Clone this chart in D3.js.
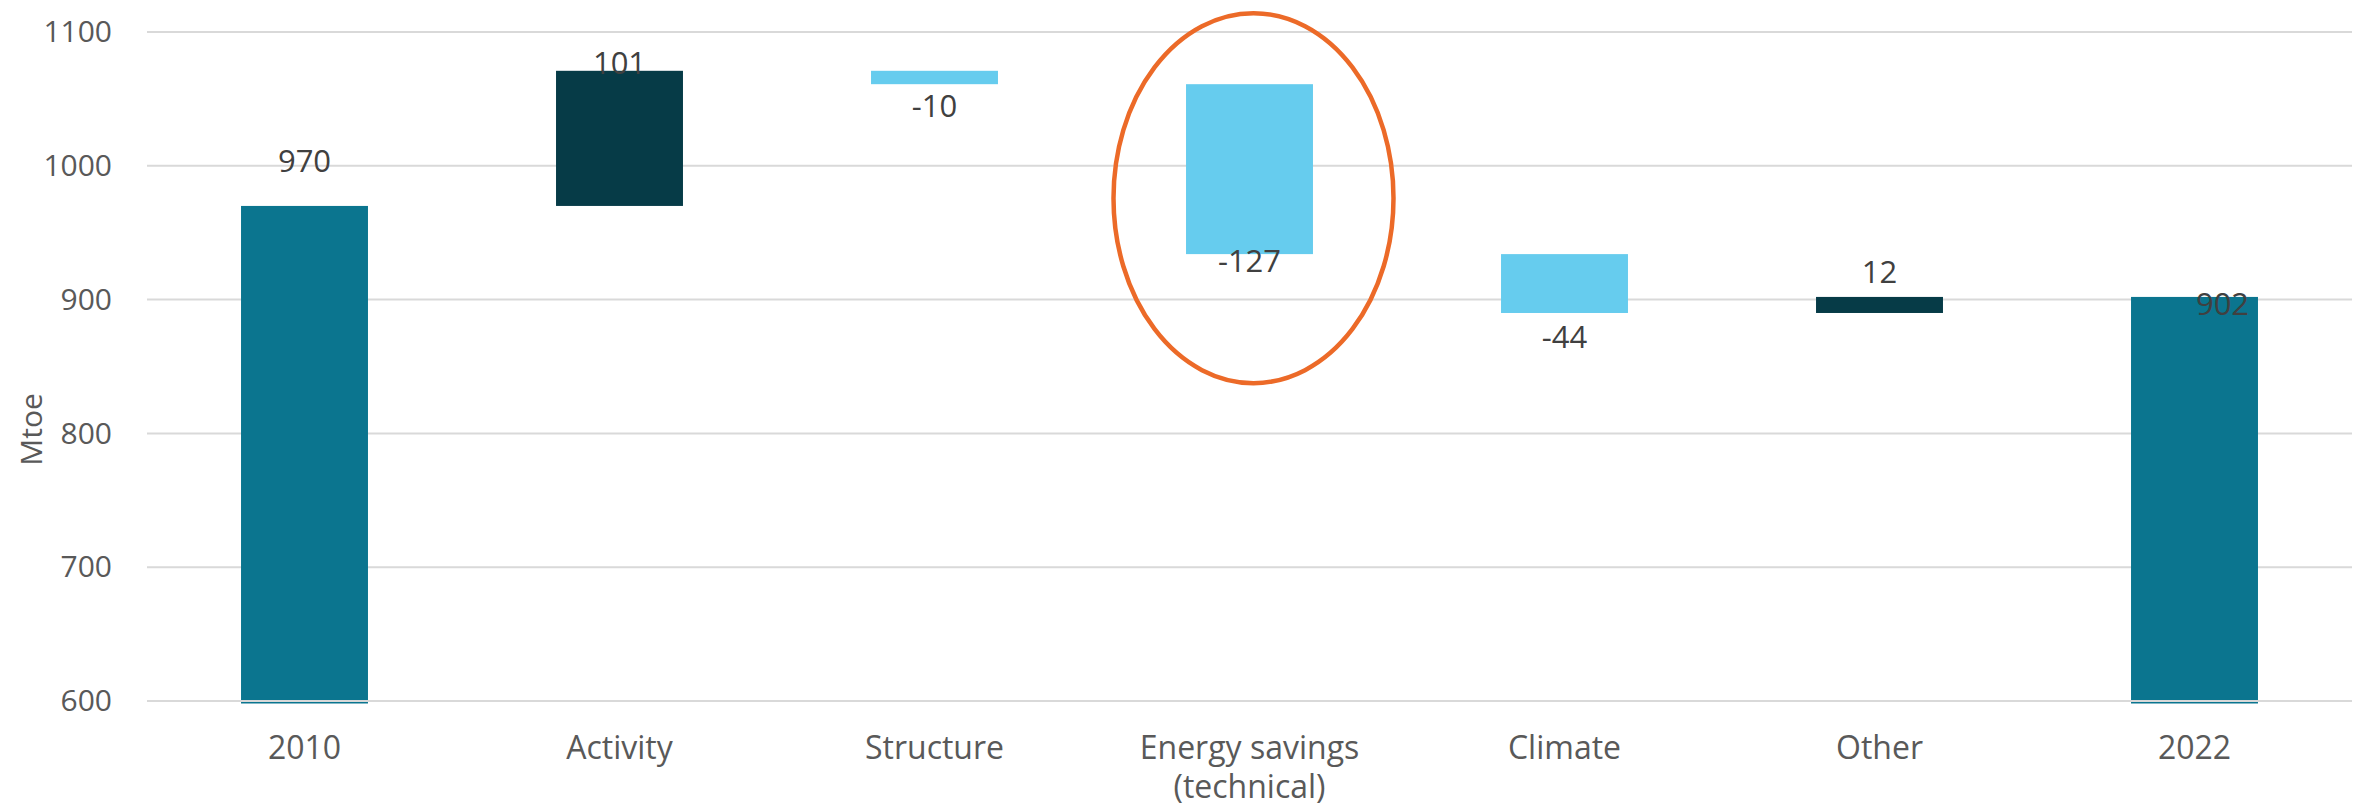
<!DOCTYPE html>
<html>
<head>
<meta charset="utf-8">
<script src="https://cdn.jsdelivr.net/npm/d3@7/dist/d3.min.js"></script>
<style>
  html, body { margin: 0; padding: 0; background: #fff; }
  svg { display: block; font-family: "Open Sans", "Noto Sans", sans-serif; }
</style>
</head>
<body>
<svg id="chart" width="2362" height="806"></svg>
<script>
// ---- data ----
const categories = ["2010", "Activity", "Structure", "Energy savings\n(technical)", "Climate", "Other", "2022"];
const values = [970, 101, -10, -127, -44, 12, 902];
const kinds = ["total", "delta", "delta", "delta", "delta", "delta", "total"];
const yTicks = [600, 700, 800, 900, 1000, 1100];
const yDomain = [600, 1100];
const yTitle = "Mtoe";
const highlighted = "Energy savings\n(technical)";

// ---- build waterfall rows ----
let running = 0;
const rows = categories.map((c, i) => {
  let start, end;
  if (kinds[i] === "total") { start = yDomain[0]; end = values[i]; running = values[i]; }
  else { start = running; end = running + values[i]; running = end; }
  return { cat: c, value: values[i], kind: kinds[i], start, end };
});

// ---- layout ----
const W = 2362, H = 806;
const margin = { left: 147, right: 10, top: 32, bottom: 105 };
const svg = d3.select("#chart");

const x = d3.scaleBand()
  .domain(categories)
  .range([margin.left, W - margin.right])
  .paddingInner(0.597)
  .paddingOuter(0.2985);

const y = d3.scaleLinear().domain(yDomain).range([H - margin.bottom, margin.top]);

const colors = { total: "#0b758f", up: "#063b47", down: "#66ccee" };

// gridlines
svg.append("g")
  .selectAll("line")
  .data(yTicks.filter(t => t !== yDomain[0]))
  .join("line")
  .attr("x1", margin.left).attr("x2", W - margin.right)
  .attr("y1", d => y(d)).attr("y2", d => y(d))
  .attr("stroke", "#d9d9d9").attr("stroke-width", 2);

// y axis (tick labels only)
const yAxis = d3.axisLeft(y).tickValues(yTicks).tickFormat(d3.format("d")).tickSize(0).tickPadding(0);
const gy = svg.append("g").attr("transform", `translate(112,0)`).call(yAxis);
gy.select(".domain").remove();
gy.selectAll("text")
  .attr("font-size", 30).attr("fill", "#595959")
  .attr("font-family", "'Open Sans', sans-serif")
  .attr("dy", "0.32em").attr("x", 0);

// bars
svg.append("g")
  .selectAll("rect")
  .data(rows)
  .join("rect")
  .attr("x", d => x(d.cat))
  .attr("width", x.bandwidth())
  .attr("y", d => y(Math.max(d.start, d.end)))
  .attr("height", d => {
    const h = Math.abs(y(d.start) - y(d.end));
    return d.kind === "total" ? h + 2.5 : h;
  })
  .attr("fill", d => d.kind === "total" ? colors.total : (d.value >= 0 ? colors.up : colors.down));

// baseline axis line (over bars)
svg.append("line")
  .attr("x1", margin.left).attr("x2", W - margin.right)
  .attr("y1", y(yDomain[0])).attr("y2", y(yDomain[0]))
  .attr("stroke", "#d9d9d9").attr("stroke-width", 2);

// data labels
const labelOffset = {
  "2010": { dx: 0, dy: -34 },
  "Activity": { dx: 0, dy: 3 },
  "Structure": { dx: 0, dy: 33 },
  "Energy savings\n(technical)": { dx: 0, dy: 18 },
  "Climate": { dx: 0, dy: 35 },
  "Other": { dx: 0, dy: -14 },
  "2022": { dx: 28, dy: 18 }
};
svg.append("g")
  .selectAll("text")
  .data(rows)
  .join("text")
  .attr("x", d => x(d.cat) + x.bandwidth() / 2 + labelOffset[d.cat].dx)
  .attr("y", d => y(d.end) + labelOffset[d.cat].dy)
  .attr("text-anchor", "middle")
  .attr("font-size", 31)
  .attr("fill", "#404040")
  .text(d => d.value);

// category labels
const gx = svg.append("g");
categories.forEach(c => {
  const t = gx.append("text")
    .attr("x", x(c) + x.bandwidth() / 2)
    .attr("y", y(yDomain[0]) + 58)
    .attr("text-anchor", "middle")
    .attr("font-size", 32)
    .attr("fill", "#595959");
  c.split("\n").forEach((line, i) => {
    t.append("tspan").attr("x", x(c) + x.bandwidth() / 2).attr("dy", i === 0 ? 0 : 39).text(line);
  });
});

// y title
svg.append("text")
  .attr("transform", `translate(42,${y(803)}) rotate(-90)`)
  .attr("text-anchor", "middle")
  .attr("font-size", 30)
  .attr("fill", "#595959")
  .text(yTitle);

// highlight ellipse around the energy-savings bar
const hr = rows.find(r => r.cat === highlighted);
svg.append("ellipse")
  .attr("cx", x(highlighted) + x.bandwidth() / 2 + 4)
  .attr("cy", (y(hr.start) + y(hr.end)) / 2 + 29)
  .attr("rx", 140)
  .attr("ry", 185)
  .attr("fill", "none")
  .attr("stroke", "#ec6a28")
  .attr("stroke-width", 4.5);
</script>
</body>
</html>
